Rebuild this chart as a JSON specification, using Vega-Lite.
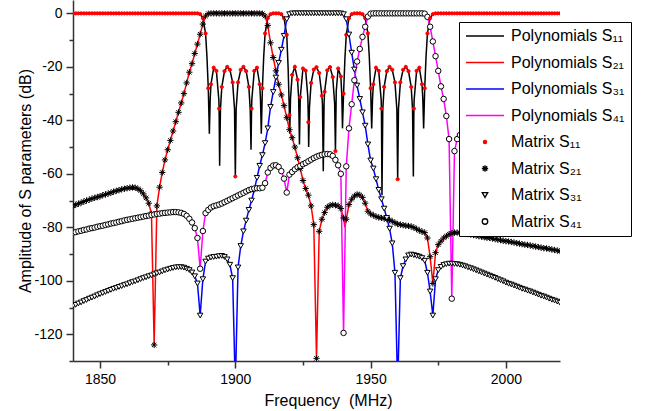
{
"$schema":"https://vega.github.io/schema/vega-lite/v6.json",
"width":487,"height":361,
"autosize":{"type":"none"},
"padding":{"left":73,"top":0,"right":90,"bottom":50},
"background":"white",
"config":{"view":{"stroke":null},"font":"Liberation Sans","legend":{"symbolFillColor":"transparent"}},
"datasets":{"names":[
{"s":"a","p":"Polynomials S₁₁","m":"Matrix S₁₁"},
{"s":"b","p":"Polynomials S₂₁","m":"Matrix S₂₁"},
{"s":"c","p":"Polynomials S₃₁","m":"Matrix S₃₁"},
{"s":"d","p":"Polynomials S₄₁","m":"Matrix S₄₁"}]},
"data":{"values":[
{"f":1840,"a":0,"b":-72,"c":-109.4,"d":-82},
{"f":1841,"a":0,"b":-71.6,"c":-109,"d":-81.8},
{"f":1842,"a":0,"b":-71.2,"c":-108.5,"d":-81.5},
{"f":1843,"a":0,"b":-70.8,"c":-108.1,"d":-81.3},
{"f":1844,"a":0,"b":-70.4,"c":-107.6,"d":-81},
{"f":1845,"a":0,"b":-70,"c":-107.2,"d":-80.8},
{"f":1846,"a":0,"b":-69.7,"c":-106.7,"d":-80.5},
{"f":1847,"a":0,"b":-69.3,"c":-106.3,"d":-80.3},
{"f":1848,"a":0,"b":-69,"c":-105.9,"d":-80.1},
{"f":1849,"a":0,"b":-68.7,"c":-105.4,"d":-79.8},
{"f":1850,"a":0,"b":-68.4,"c":-105,"d":-79.6},
{"f":1851,"a":0,"b":-68,"c":-104.6,"d":-79.4},
{"f":1852,"a":0,"b":-67.7,"c":-104.2,"d":-79.1},
{"f":1853,"a":0,"b":-67.4,"c":-103.8,"d":-78.9},
{"f":1854,"a":0,"b":-67.1,"c":-103.4,"d":-78.6},
{"f":1855,"a":0,"b":-66.7,"c":-103,"d":-78.4},
{"f":1856,"a":0,"b":-66.4,"c":-102.7,"d":-78.2},
{"f":1857,"a":0,"b":-66.1,"c":-102.3,"d":-77.9},
{"f":1858,"a":0,"b":-65.8,"c":-102,"d":-77.7},
{"f":1859,"a":0,"b":-65.6,"c":-101.6,"d":-77.4},
{"f":1860,"a":0,"b":-65.4,"c":-101.3,"d":-77.2},
{"f":1861,"a":0,"b":-65.2,"c":-100.9,"d":-77},
{"f":1862,"a":0,"b":-65.1,"c":-100.5,"d":-76.8},
{"f":1863,"a":0,"b":-65.2,"c":-100.2,"d":-76.6},
{"f":1864,"a":0,"b":-65.6,"c":-99.8,"d":-76.4},
{"f":1865,"a":0,"b":-66.3,"c":-99.4,"d":-76.2},
{"f":1866,"a":0,"b":-67.5,"c":-99,"d":-76},
{"f":1867,"a":0,"b":-69,"c":-98.7,"d":-75.8},
{"f":1868,"a":0,"b":-71,"c":-98.3,"d":-75.6},
{"f":1869,"a":0,"b":-75,"c":-98,"d":-75.4},
{"f":1870,"a":0,"b":-124,"c":-97.6,"d":-75.2},
{"f":1871,"a":0,"b":-72,"c":-97.2,"d":-75},
{"f":1872,"a":0,"b":-65,"c":-96.9,"d":-74.9},
{"f":1873,"a":0,"b":-59.5,"c":-96.5,"d":-74.7},
{"f":1874,"a":0,"b":-54.8,"c":-96.1,"d":-74.6},
{"f":1875,"a":0,"b":-51,"c":-95.8,"d":-74.5},
{"f":1876,"a":0,"b":-47.5,"c":-95.5,"d":-74.4},
{"f":1877,"a":0,"b":-44,"c":-95.2,"d":-74.3},
{"f":1878,"a":0,"b":-40.5,"c":-95,"d":-74.3},
{"f":1879,"a":0,"b":-37,"c":-94.9,"d":-74.4},
{"f":1880,"a":0,"b":-33.5,"c":-94.9,"d":-74.6},
{"f":1881,"a":0,"b":-30,"c":-95.1,"d":-75},
{"f":1882,"a":0,"b":-26,"c":-95.5,"d":-75.7},
{"f":1883,"a":0,"b":-22,"c":-96,"d":-76.8},
{"f":1884,"a":0,"b":-18.8,"c":-96.9,"d":-78.2},
{"f":1885,"a":0,"b":-15,"c":-98.3,"d":-80.3},
{"f":1886,"a":0,"b":-11.5,"c":-101,"d":-84},
{"f":1887,"a":-0.3,"b":-7.8,"c":-113,"d":-95.5},
{"f":1888,"a":-1.8,"b":-4,"c":-99.4,"d":-81.4},
{"f":1889,"a":-7.5,"b":-1,"c":-92.8,"d":-74.7},
{"f":1890,"a":-28,"b":-0.1,"c":-91.7,"d":-73.5},
{"f":1891,"a":-26.5,"b":0,"c":-91.3,"d":-72.6},
{"f":1892,"a":-20.3,"b":0,"c":-91.1,"d":-72.1},
{"f":1893,"a":-21.5,"b":0,"c":-91,"d":-71.8},
{"f":1894,"a":-35.6,"b":0,"c":-90.8,"d":-71.5},
{"f":1895,"a":-27.5,"b":0,"c":-90.7,"d":-71.1},
{"f":1896,"a":-21.6,"b":0,"c":-91.1,"d":-70.6},
{"f":1897,"a":-20,"b":0,"c":-92,"d":-70.1},
{"f":1898,"a":-21.1,"b":0,"c":-94,"d":-69.6},
{"f":1899,"a":-25.8,"b":0,"c":-99,"d":-69.1},
{"f":1900,"a":-61,"b":0,"c":-140,"d":-68.6},
{"f":1901,"a":-25.8,"b":0,"c":-95,"d":-68.1},
{"f":1902,"a":-21.1,"b":0,"c":-87,"d":-67.6},
{"f":1903,"a":-20,"b":0,"c":-81.5,"d":-67.1},
{"f":1904,"a":-21.6,"b":0,"c":-77.5,"d":-66.6},
{"f":1905,"a":-27.5,"b":0,"c":-73.5,"d":-66.1},
{"f":1906,"a":-35.6,"b":0,"c":-70,"d":-65.7},
{"f":1907,"a":-21.5,"b":0,"c":-66,"d":-65.5},
{"f":1908,"a":-20.3,"b":0,"c":-61.5,"d":-65.4},
{"f":1909,"a":-26.5,"b":0,"c":-57,"d":-65.4},
{"f":1910,"a":-28,"b":-0.1,"c":-53,"d":-65.2},
{"f":1911,"a":-7.5,"b":-1,"c":-48.5,"d":-63.5},
{"f":1912,"a":-1.8,"b":-4.5,"c":-43,"d":-59.5},
{"f":1913,"a":-0.3,"b":-11,"c":-35,"d":-57.8},
{"f":1914,"a":0,"b":-16.5,"c":-29.4,"d":-56.9},
{"f":1915,"a":0,"b":-21.5,"c":-24,"d":-56.8},
{"f":1916,"a":0,"b":-26.5,"c":-18.5,"d":-57.4},
{"f":1917,"a":-0.3,"b":-30.5,"c":-13.6,"d":-59},
{"f":1918,"a":-1.8,"b":-34.5,"c":-8.4,"d":-61.8},
{"f":1919,"a":-8,"b":-39,"c":-2.2,"d":-67},
{"f":1920,"a":-38,"b":-43.5,"c":-0.3,"d":-60.3},
{"f":1921,"a":-23,"b":-46.5,"c":0,"d":-59.3},
{"f":1922,"a":-20,"b":-50,"c":0,"d":-58.3},
{"f":1923,"a":-24.8,"b":-54,"c":0,"d":-57.5},
{"f":1924,"a":-31.3,"b":-58,"c":0,"d":-57},
{"f":1925,"a":-20.6,"b":-62.5,"c":0,"d":-56.4},
{"f":1926,"a":-21.4,"b":-65.5,"c":0,"d":-55.9},
{"f":1927,"a":-40.7,"b":-68,"c":0,"d":-55.3},
{"f":1928,"a":-26,"b":-72,"c":0,"d":-54.7},
{"f":1929,"a":-21,"b":-79,"c":0,"d":-54.1},
{"f":1930,"a":-20.1,"b":-129,"c":0,"d":-53.6},
{"f":1931,"a":-22.3,"b":-81.5,"c":0,"d":-53.2},
{"f":1932,"a":-30.8,"b":-77,"c":0,"d":-52.9},
{"f":1933,"a":-29.3,"b":-74.5,"c":0,"d":-52.7},
{"f":1934,"a":-21.3,"b":-72.5,"c":0,"d":-52.6},
{"f":1935,"a":-20.1,"b":-71.8,"c":0,"d":-52.7},
{"f":1936,"a":-23.8,"b":-71.6,"c":0,"d":-53.3},
{"f":1937,"a":-51.5,"b":-71.7,"c":0,"d":-54.8},
{"f":1938,"a":-20.6,"b":-72,"c":0,"d":-56.8},
{"f":1939,"a":-23.6,"b":-73,"c":0,"d":-60},
{"f":1940,"a":-30,"b":-76.5,"c":-0.3,"d":-119.5},
{"f":1941,"a":-8,"b":-77,"c":-2.2,"d":-57.2},
{"f":1942,"a":-1.8,"b":-71.5,"c":-7.9,"d":-43},
{"f":1943,"a":-0.3,"b":-69.5,"c":-14.7,"d":-34},
{"f":1944,"a":0,"b":-68.3,"c":-21,"d":-25},
{"f":1945,"a":0,"b":-67.7,"c":-27,"d":-18},
{"f":1946,"a":0,"b":-67.9,"c":-32,"d":-13.3},
{"f":1947,"a":-0.3,"b":-68.8,"c":-37,"d":-8.8},
{"f":1948,"a":-1.8,"b":-71,"c":-42,"d":-5},
{"f":1949,"a":-7.5,"b":-74,"c":-49,"d":-1.2},
{"f":1950,"a":-28,"b":-75,"c":-55,"d":-0.1},
{"f":1951,"a":-26.5,"b":-75.5,"c":-58,"d":0},
{"f":1952,"a":-20.3,"b":-76,"c":-62,"d":0},
{"f":1953,"a":-21.5,"b":-76.3,"c":-66,"d":0},
{"f":1954,"a":-35.6,"b":-76.5,"c":-69.5,"d":0},
{"f":1955,"a":-27.5,"b":-76.7,"c":-73,"d":0},
{"f":1956,"a":-21.6,"b":-77,"c":-76.5,"d":0},
{"f":1957,"a":-20,"b":-77.2,"c":-80.5,"d":0},
{"f":1958,"a":-21.1,"b":-77.8,"c":-86,"d":0},
{"f":1959,"a":-25.8,"b":-78.3,"c":-97,"d":0},
{"f":1960,"a":-62,"b":-78.8,"c":-140,"d":0},
{"f":1961,"a":-25.8,"b":-79,"c":-99,"d":0},
{"f":1962,"a":-21.1,"b":-79.2,"c":-94.5,"d":0},
{"f":1963,"a":-20,"b":-79.4,"c":-92,"d":0},
{"f":1964,"a":-21.6,"b":-79.5,"c":-90.5,"d":0},
{"f":1965,"a":-27.5,"b":-79.7,"c":-90.2,"d":0},
{"f":1966,"a":-35.6,"b":-80.1,"c":-90.4,"d":0},
{"f":1967,"a":-21.5,"b":-80.6,"c":-90.7,"d":0},
{"f":1968,"a":-20.3,"b":-81.2,"c":-91,"d":0},
{"f":1969,"a":-26.5,"b":-81.6,"c":-91.5,"d":0},
{"f":1970,"a":-28,"b":-82,"c":-92.5,"d":-0.1},
{"f":1971,"a":-7.5,"b":-84,"c":-97,"d":-1.3},
{"f":1972,"a":-1.8,"b":-91,"c":-104,"d":-5},
{"f":1973,"a":-0.3,"b":-101,"c":-113,"d":-10.5},
{"f":1974,"a":0,"b":-89.5,"c":-99.4,"d":-16},
{"f":1975,"a":0,"b":-86.5,"c":-96,"d":-21.5},
{"f":1976,"a":0,"b":-85.2,"c":-94.8,"d":-27.3},
{"f":1977,"a":0,"b":-84,"c":-94.1,"d":-32},
{"f":1978,"a":0,"b":-83.3,"c":-93.8,"d":-38.4},
{"f":1979,"a":0,"b":-82.6,"c":-93.6,"d":-47},
{"f":1980,"a":0,"b":-82.2,"c":-93.6,"d":-106.7},
{"f":1981,"a":0,"b":-82,"c":-93.7,"d":-51.5},
{"f":1982,"a":0,"b":-82,"c":-93.8,"d":-47},
{"f":1983,"a":0,"b":-82,"c":-94,"d":-45.5},
{"f":1984,"a":0,"b":-82.1,"c":-94.3,"d":-44.8},
{"f":1985,"a":0,"b":-82.3,"c":-94.6,"d":-44.3},
{"f":1986,"a":0,"b":-82.5,"c":-95,"d":-44},
{"f":1987,"a":0,"b":-82.7,"c":-95.3,"d":-43.7},
{"f":1988,"a":0,"b":-82.9,"c":-95.7,"d":-43.5},
{"f":1989,"a":0,"b":-83.1,"c":-96.1,"d":-43.3},
{"f":1990,"a":0,"b":-83.3,"c":-96.5,"d":-43.1},
{"f":1991,"a":0,"b":-83.5,"c":-96.9,"d":-42.9},
{"f":1992,"a":0,"b":-83.7,"c":-97.3,"d":-42.8},
{"f":1993,"a":0,"b":-83.9,"c":-97.7,"d":-42.7},
{"f":1994,"a":0,"b":-84,"c":-98.1,"d":-42.6},
{"f":1995,"a":0,"b":-84.2,"c":-98.5,"d":-42.5},
{"f":1996,"a":0,"b":-84.4,"c":-98.9,"d":-42.4},
{"f":1997,"a":0,"b":-84.6,"c":-99.4,"d":-42.3},
{"f":1998,"a":0,"b":-84.8,"c":-99.8,"d":-42.2},
{"f":1999,"a":0,"b":-85,"c":-100.2,"d":-42.1},
{"f":2000,"a":0,"b":-85.2,"c":-100.7,"d":-42},
{"f":2001,"a":0,"b":-85.3,"c":-101.1,"d":-41.9},
{"f":2002,"a":0,"b":-85.5,"c":-101.4,"d":-41.8},
{"f":2003,"a":0,"b":-85.7,"c":-101.8,"d":-41.7},
{"f":2004,"a":0,"b":-85.9,"c":-102.2,"d":-41.6},
{"f":2005,"a":0,"b":-86.1,"c":-102.6,"d":-41.5},
{"f":2006,"a":0,"b":-86.3,"c":-103,"d":-41.4},
{"f":2007,"a":0,"b":-86.5,"c":-103.3,"d":-41.3},
{"f":2008,"a":0,"b":-86.6,"c":-103.7,"d":-41.2},
{"f":2009,"a":0,"b":-86.8,"c":-104,"d":-41.1},
{"f":2010,"a":0,"b":-87,"c":-104.4,"d":-41},
{"f":2011,"a":0,"b":-87.2,"c":-104.8,"d":-40.9},
{"f":2012,"a":0,"b":-87.4,"c":-105.2,"d":-40.8},
{"f":2013,"a":0,"b":-87.6,"c":-105.6,"d":-40.7},
{"f":2014,"a":0,"b":-87.8,"c":-105.9,"d":-40.6},
{"f":2015,"a":0,"b":-87.9,"c":-106.3,"d":-40.5},
{"f":2016,"a":0,"b":-88.1,"c":-106.7,"d":-40.4},
{"f":2017,"a":0,"b":-88.3,"c":-107.1,"d":-40.3},
{"f":2018,"a":0,"b":-88.5,"c":-107.4,"d":-40.2},
{"f":2019,"a":0,"b":-88.7,"c":-107.8,"d":-40.1},
{"f":2020,"a":0,"b":-88.9,"c":-108.2,"d":-40},
{"f":1889.5,"a":-16,"x":1},
{"f":1890.4,"a":-45,"x":1},
{"f":1890.7,"a":-32.2,"x":1},
{"f":1893.9,"a":-32.2,"x":1},
{"f":1894.2,"a":-57,"x":1},
{"f":1894.5,"a":-35.8,"x":1},
{"f":1899.7,"a":-35.8,"x":1},
{"f":1900.3,"a":-35.8,"x":1},
{"f":1905.5,"a":-35.8,"x":1},
{"f":1905.8,"a":-51,"x":1},
{"f":1906.1,"a":-32.2,"x":1},
{"f":1909.3,"a":-32.2,"x":1},
{"f":1909.6,"a":-45,"x":1},
{"f":1910.5,"a":-16,"x":1},
{"f":1919.5,"a":-20,"x":1},
{"f":1920.1,"a":-45,"x":1},
{"f":1920.4,"a":-31.7,"x":1},
{"f":1923.4,"a":-31.7,"x":1},
{"f":1923.7,"a":-49,"x":1},
{"f":1926.8,"a":-31.3,"x":1},
{"f":1927.1,"a":-50,"x":1},
{"f":1927.4,"a":-35.2,"x":1},
{"f":1932.2,"a":-34,"x":1},
{"f":1932.5,"a":-59,"x":1},
{"f":1932.8,"a":-33.6,"x":1},
{"f":1936.7,"a":-33.6,"x":1},
{"f":1937.3,"a":-29,"x":1},
{"f":1939.35,"a":-30.5,"x":1},
{"f":1939.6,"a":-43,"x":1},
{"f":1940.5,"a":-17,"b":-80,"x":1},
{"f":1949.5,"a":-16,"x":1},
{"f":1950.4,"a":-43,"x":1},
{"f":1950.7,"a":-32.2,"x":1},
{"f":1953.9,"a":-32.2,"x":1},
{"f":1954.2,"a":-68,"x":1},
{"f":1954.5,"a":-35.8,"x":1},
{"f":1959.7,"a":-35.8,"x":1},
{"f":1960.3,"a":-35.8,"x":1},
{"f":1965.5,"a":-35.8,"x":1},
{"f":1965.8,"a":-61,"x":1},
{"f":1966.1,"a":-32.2,"x":1},
{"f":1969.3,"a":-32.2,"x":1},
{"f":1969.6,"a":-43,"x":1},
{"f":1970.5,"a":-16,"x":1}
]},
"transform":[
{"fold":["a","b","c","d"],"as":["s","v"]},
{"filter":"isValid(datum.v)"},
{"lookup":"s","from":{"data":{"name":"names"},"key":"s","fields":["p","m"]}}
],
"encoding":{
"x":{"field":"f","type":"quantitative","scale":{"domain":[1840,2020],"nice":false,"zero":false},
"axis":{"values":[1850,1875,1900,1925,1950,1975,2000],"format":"d","labelExpr":"datum.value % 50 == 0 ? datum.label : ''",
"tickSize":{"condition":{"test":"datum.value % 50 == 0","value":7},"value":4},
"grid":false,"title":"Frequency\u00a0 (MHz)","titleX":255,"titleAlign":"center","labelFontSize":14,"titleFontSize":16,"titleFontWeight":"normal","labelPadding":4,"titlePadding":6,
"domainColor":"#333","domainWidth":1.5,"tickColor":"#333","tickWidth":1.5,"labelColor":"#000","titleColor":"#000","labelFont":"Liberation Sans","titleFont":"Liberation Sans"}},
"y":{"field":"v","type":"quantitative","scale":{"domain":[-130,5],"nice":false,"zero":false},
"axis":{"values":[-130,-120,-110,-100,-90,-80,-70,-60,-50,-40,-30,-20,-10,0],"labelExpr":"datum.value % 20 == 0 ? '' + datum.value : ''",
"tickSize":{"condition":{"test":"datum.value % 20 == 0","value":7},"value":4},
"grid":false,"title":"Amplitude of S parameters (dB)","labelFontSize":14,"titleFontSize":16,"titleFontWeight":"normal","labelPadding":4,"titlePadding":0,
"domainColor":"#333","domainWidth":1.5,"tickColor":"#333","tickWidth":1.5,"labelColor":"#000","titleColor":"#000","labelFont":"Liberation Sans","titleFont":"Liberation Sans"}}
},
"layer":[
{"mark":{"type":"line","strokeWidth":1.5,"clip":true},
"encoding":{"stroke":{"field":"p","type":"nominal",
"scale":{"domain":["Polynomials S₁₁","Polynomials S₂₁","Polynomials S₃₁","Polynomials S₄₁","Matrix S₁₁","Matrix S₂₁","Matrix S₃₁","Matrix S₄₁"],
"range":["#000000","#ff0000","#0000ff","#ff00ff","#ff0000","#000000","#000000","#000000"]},
"legend":{"title":null,"orient":"none","legendX":386,"legendY":22,"padding":6,"strokeColor":"#000","fillColor":"#fff",
"labelFont":"Liberation Sans","labelFontSize":16,"labelColor":"#000","labelOffset":6,"labelLimit":300,
"symbolStrokeWidth":1.3,"clipHeight":16,"rowPadding":10.5}}}},
{"transform":[{"filter":"!datum.x"}],
"mark":{"type":"point","clip":true,"opacity":1,"strokeWidth":1},
"encoding":{
"stroke":{"field":"m","type":"nominal","legend":null},
"shape":{"field":"m","type":"nominal","scale":{"domain":["Polynomials S₁₁","Polynomials S₂₁","Polynomials S₃₁","Polynomials S₄₁","Matrix S₁₁","Matrix S₂₁","Matrix S₃₁","Matrix S₄₁"],"range":["stroke","stroke","stroke","stroke","circle","M-1,0H1M0,-1V1M-0.7,-0.7L0.7,0.7M-0.7,0.7L0.7,-0.7","triangle-down","circle"]}},
"fill":{"field":"m","type":"nominal","scale":{"domain":["Polynomials S₁₁","Polynomials S₂₁","Polynomials S₃₁","Polynomials S₄₁","Matrix S₁₁","Matrix S₂₁","Matrix S₃₁","Matrix S₄₁"],"range":["transparent","transparent","transparent","transparent","#ff0000","transparent","#ffffff","#ffffff"]}},
"size":{"field":"m","type":"nominal","scale":{"type":"ordinal","domain":["Polynomials S₁₁","Polynomials S₂₁","Polynomials S₃₁","Polynomials S₄₁","Matrix S₁₁","Matrix S₂₁","Matrix S₃₁","Matrix S₄₁"],"range":[1444,1444,1444,1444,10,40,30,30]}}
}}
]
}
